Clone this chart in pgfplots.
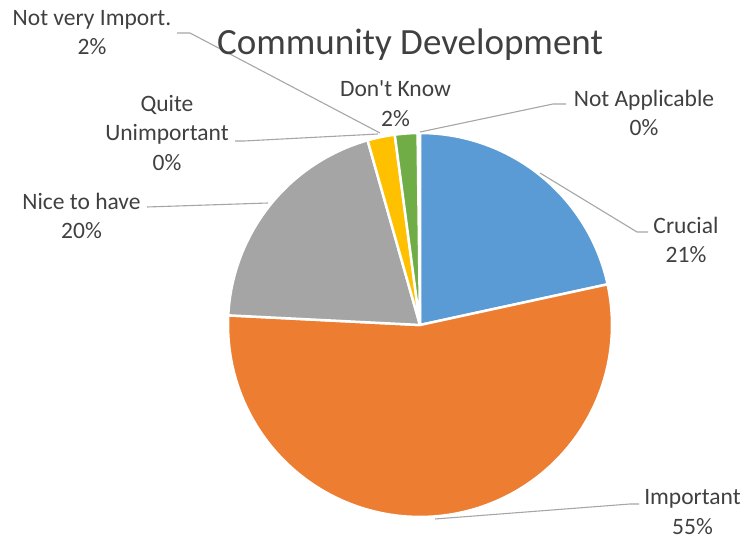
\documentclass[border=0pt]{standalone}
\usepackage{fontspec}
\setmainfont{Carlito}[Ligatures=TeXOff]
\usepackage{pgfplots}
\pgfplotsset{compat=1.18}
\definecolor{cBlue}{HTML}{5B9BD5}
\definecolor{cOrange}{HTML}{ED7D31}
\definecolor{cGray}{HTML}{A5A5A5}
\definecolor{cYellow}{HTML}{FFC000}
\definecolor{cDBlue}{HTML}{4472C4}
\definecolor{cGreen}{HTML}{70AD47}
\definecolor{cNavy}{HTML}{264478}
\definecolor{lbl}{HTML}{404040}
\definecolor{ttl}{HTML}{404040}
\definecolor{lead}{HTML}{A6A6A6}
\tikzset{lab/.style={text=lbl, font=\fontsize{23.5}{29.5}\selectfont, align=center, inner sep=0pt},
         ldr/.style={lead, line width=1.1pt}}
% slice values (percent), clockwise from 12 o'clock
\def\vCrucial{21.6}
\def\vImportant{54.2}
\def\vNice{19.8}
\def\vQuite{0}
\def\vNotVery{2.3}
\def\vDontKnow{1.9}
\def\vNotAppl{0}
\def\cx{420}\def\cy{214}\def\rr{192}
\def\curang{90}
\newcommand{\slice}[2]{%
  \pgfmathsetmacro{\endang}{\curang-3.6*#1}%
  \ifdim #1pt>0pt
  \edef\temp{\noexpand\addplot[fill=#2, draw=white, line width=2.5pt, line join=round, domain=\curang:\endang, samples=80, variable=\noexpand\t] ({\cx+\rr*cos(\noexpand\t)},{\cy+\rr*sin(\noexpand\t)}) -- (axis cs:\cx,\cy) -- cycle;}%
  \temp
  \fi
  \global\let\curang\endang}
\begin{document}
\begin{tikzpicture}
\begin{axis}[
  scale only axis, width=745pt, height=539pt,
  xmin=0, xmax=745, ymin=0, ymax=539,
  hide axis, clip=false,
]
\path (axis cs:0,0) rectangle (axis cs:745,539);
\slice{\vCrucial}{cBlue}
\slice{\vImportant}{cOrange}
\slice{\vNice}{cGray}
\slice{\vQuite}{cDBlue}
\slice{\vNotVery}{cYellow}
\slice{\vDontKnow}{cGreen}
\slice{\vNotAppl}{cNavy}
% leader lines
\draw[ldr] (177,506) -- (190,506) -- (380,406);
\draw[ldr] (235,398) -- (244,398) -- (378,405);
\draw[ldr] (147,332) -- (268,336);
\draw[ldr] (420,407) -- (553,435) -- (566,435);
\draw[ldr] (540,366) -- (637,307) -- (648,307);
\draw[ldr] (435,20) -- (630,35) -- (639,35);
% title
\node[text=ttl, font=\fontsize{37}{44}\selectfont, inner sep=0pt] at (410,494) {Community Development};
% labels
\node[lab] at (92,506.5) {Not very Import.\\2\%};
\node[lab] at (167,406) {Quite\\Unimportant\\0\%};
\node[lab] at (81.5,323) {Nice to have\\20\%};
\node[lab] at (395.5,435.5) {Don't Know\\2\%};
\node[lab] at (644,426) {Not Applicable\\0\%};
\node[lab] at (686,299) {Crucial\\21\%};
\node[lab] at (692.5,27) {Important\\55\%};
\end{axis}
\end{tikzpicture}
\end{document}
